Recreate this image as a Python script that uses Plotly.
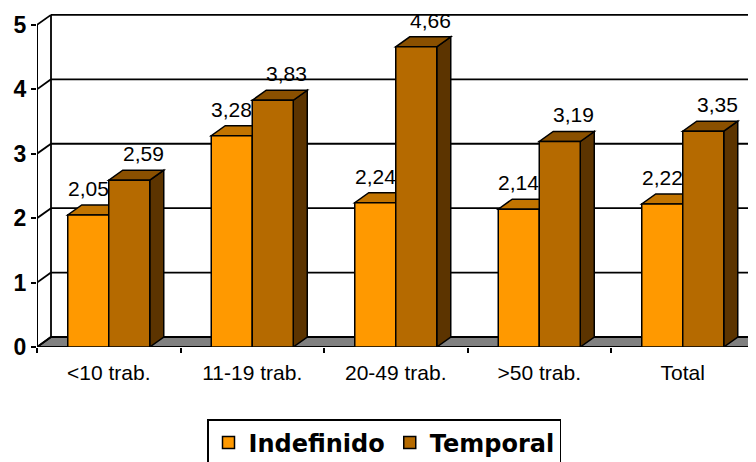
import plotly.graph_objects as go

categories = ["<10 trab.", "11-19 trab.", "20-49 trab.", ">50 trab.", "Total"]
indefinido = [2.05, 3.28, 2.24, 2.14, 2.22]
temporal = [2.59, 3.83, 4.66, 3.19, 3.35]
y_ticks = [0, 1, 2, 3, 4, 5]
series_names = ["Indefinido", "Temporal"]

# ---- layout geometry (pixels); the page body adds an 8px offset ----
PAGE_OFF = 8
W, H = 756, 462
ML, MR, MT = 37 - PAGE_OFF, 0, 12 - PAGE_OFF
plot_bottom = 347 - PAGE_OFF
MB = H - plot_bottom
plot_w = W - ML - MR
plot_h = H - MT - MB
cat_px = 143.5
y_max = 5.2
x_min = -0.5
x_max = x_min + plot_w / cat_px
px_per_y = plot_h / y_max

DEPTH_PX_X, DEPTH_PX_Y = 14, 10
depth_dx = DEPTH_PX_X / cat_px      # 3D depth in category units
depth_dy = DEPTH_PX_Y / px_per_y     # 3D depth in value units
bw = 41 / cat_px                     # bar width in category units

FRONT = {"Indefinido": "#FF9900", "Temporal": "#B56A00"}
TOP = {"Indefinido": "#C27400", "Temporal": "#8A5000"}
SIDE = {"Indefinido": "#7F4C00", "Temporal": "#5C3400"}
LABEL_XSHIFT = {"Indefinido": 0, "Temporal": DEPTH_PX_X}
LINE = "black"

fig = go.Figure()

shapes = []

def poly(pts, fill, lw=1.5, layer="below"):
    path = "M " + " L ".join(f"{x},{y}" for x, y in pts) + " Z"
    return dict(type="path", path=path, xref="x", yref="y", fillcolor=fill,
                line=dict(color=LINE, width=lw), layer=layer)

def seg(x0, y0, x1, y1, lw=1.8):
    return dict(type="line", x0=x0, y0=y0, x1=x1, y1=y1, xref="x", yref="y",
                line=dict(color=LINE, width=lw), layer="below")

# floor
shapes.append(poly([(x_min, 0), (len(categories) - 0.5, 0),
                    (len(categories) - 0.5 + depth_dx, depth_dy),
                    (x_min + depth_dx, depth_dy)], "#808080", lw=1.8))
# back wall gridlines and side wall diagonals
for v in y_ticks:
    if v > 0:
        shapes.append(seg(x_min + depth_dx, v + depth_dy, x_max + 1, v + depth_dy))
    shapes.append(seg(x_min, v, x_min + depth_dx, v + depth_dy))
# back wall left edge
shapes.append(seg(x_min + depth_dx, depth_dy, x_min + depth_dx, max(y_ticks) + depth_dy))
# front y axis line
shapes.append(seg(x_min, 0, x_min, max(y_ticks), lw=2))

# bar side/top faces
series = [("Indefinido", indefinido, -bw), ("Temporal", temporal, 0.0)]
for name, vals, off in series:
    for i, v in enumerate(vals):
        xl = i + off
        xr = xl + bw
        shapes.append(poly([(xr, 0), (xr + depth_dx, depth_dy),
                            (xr + depth_dx, v + depth_dy), (xr, v)], SIDE[name]))
        shapes.append(poly([(xl, v), (xr, v), (xr + depth_dx, v + depth_dy),
                            (xl + depth_dx, v + depth_dy)], TOP[name]))

annotations = []
for name, vals, off in series:
    fig.add_trace(go.Bar(
        name=name, x=categories, y=vals, width=bw, offset=off,
        marker=dict(color=FRONT[name], line=dict(color=LINE, width=1.5)),
        hoverinfo="skip",
    ))
    for i, v in enumerate(vals):
        annotations.append(dict(
            x=i + off + bw / 2, y=v, xref="x", yref="y",
            text=f"{v:.2f}".replace(".", ","), showarrow=False,
            yanchor="bottom", xanchor="center", xshift=LABEL_XSHIFT[name], yshift=13,
            font=dict(family="Arial, Liberation Sans, sans-serif", size=21, color="black"),
        ))

legend_top = 419 - PAGE_OFF
legend_left = 207 - PAGE_OFF

fig.update_layout(
    width=W, height=H,
    margin=dict(l=ML, r=MR, t=MT, b=MB, autoexpand=False),
    paper_bgcolor="white", plot_bgcolor="white",
    barmode="overlay",
    shapes=shapes, annotations=annotations,
    showlegend=True,
    legend=dict(
        orientation="h", x=(legend_left - ML) / plot_w, xanchor="left",
        y=-(legend_top - (MT + plot_h)) / plot_h,
        yanchor="top",
        bordercolor="black", borderwidth=1.5, bgcolor="white",
        font=dict(family="DejaVu Sans, Arial, sans-serif", size=24, color="black", weight="bold"),
        traceorder="normal",
    ),
    xaxis=dict(
        type="category", range=[x_min, x_max], showgrid=False, zeroline=False,
        showline=False, ticks="outside", tickson="boundaries", ticklen=5,
        tickwidth=1.8, tickcolor="black", ticklabelstandoff=11, automargin=False,
        tickfont=dict(family="Arial, Liberation Sans, sans-serif", size=21, color="black"),
    ),
    yaxis=dict(
        range=[0, y_max], showgrid=False, zeroline=False, showline=False,
        tickvals=y_ticks, ticks="outside", ticklen=5, tickwidth=1.8,
        tickcolor="black", automargin=False,
        tickfont=dict(family="Arial, Liberation Sans, sans-serif", size=23, color="black", weight="bold"),
    ),
)

fig.write_html("out.html")
